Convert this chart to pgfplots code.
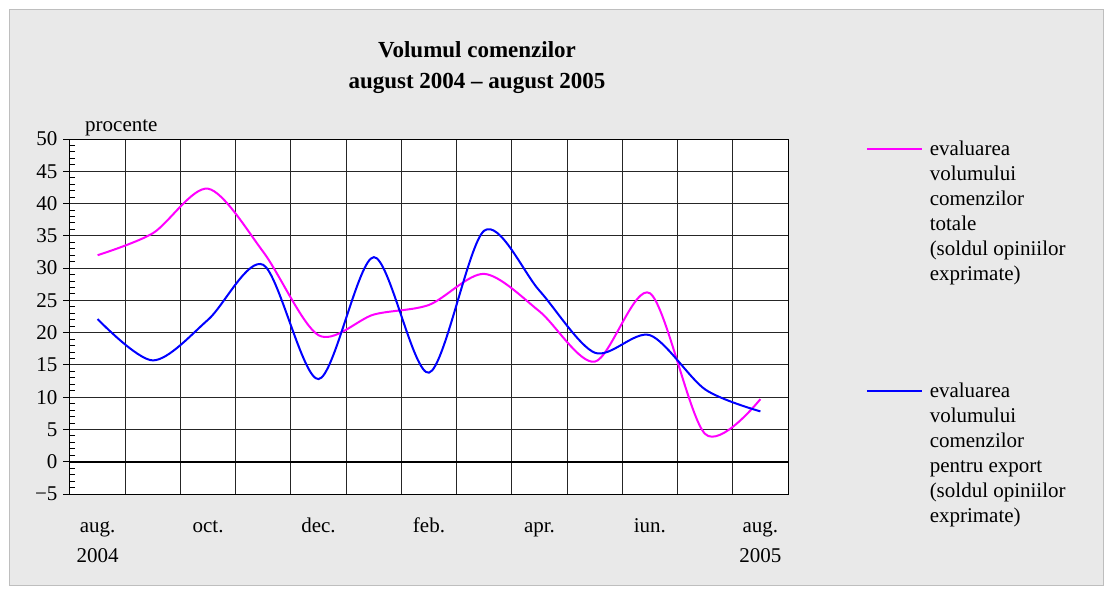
\documentclass[border=0pt]{standalone}
\usepackage{fontspec}
\setmainfont{Liberation Serif}
\usepackage{pgfplots}
\pgfplotsset{compat=1.18}
\definecolor{bgray}{RGB}{233,233,233}
\definecolor{frame}{RGB}{190,190,190}
\definecolor{mag}{RGB}{255,0,255}
\definecolor{blu}{RGB}{0,0,255}
\begin{document}
\begin{tikzpicture}[x=1pt,y=1pt]
% page and chart area (1 px = 1 pt, origin at the plot's lower left corner)
\fill[white] (-70,-96) rectangle (1043,494);
\filldraw[fill=bgray, draw=frame, line width=1pt] (-60,-91) rectangle (1033,484);
\node[anchor=base, align=center, font=\bfseries\fontsize{23}{31}\selectfont]
  at (407,405) {Volumul comenzilor\\august 2004 – august 2005};
\node[anchor=base west, inner sep=0pt, font=\fontsize{21}{25}\selectfont]
  at (15,362) {procente};
\begin{axis}[
    at={(0,0)}, anchor=south west,
    scale only axis, width=718pt, height=355pt,
    xmin=-0.5, xmax=12.5, ymin=-5, ymax=50,
    axis background/.style={fill=white},
    axis line style={black, line width=1pt},
    grid style={black!85, line width=1pt},
    xtick={0.5,1.5,...,11.5}, xticklabels={}, xmajorgrids,
    xtick style={draw=none},
    extra x ticks={0,2,4,6,8,10,12},
    extra x tick labels={\strut aug.\\2004,\strut oct.,\strut dec.,\strut feb.,\strut apr.,\strut iun.,\strut aug.\\2005},
    extra x tick style={grid=none, major tick length=0pt,
        tick label style={align=center, anchor=north, yshift=-14pt,
          font=\fontsize{21}{30}\selectfont}},
    ytick={-5,0,...,50},
    yticklabels={−5,0,5,10,15,20,25,30,35,40,45,50},
    yticklabel style={font=\fontsize{21}{25}\selectfont, xshift=-2pt},
    ytick pos=left,
    ymajorgrids,
    minor y tick num=4,
    tick align=outside,
    major tick length=7pt,
    minor tick length=5pt,
    minor y tick style={xshift=5pt, black, line width=0.9pt},
    major tick style={black, line width=0.9pt},
    legend style={draw=none, fill=none, inner sep=0pt,
        at={(axis description cs:1.108,1.0)}, anchor=north west,
        cells={anchor=base west, inner sep=0pt},
        column sep=5pt, row sep=222pt,
        font=\fontsize{21}{25}\selectfont},
    legend image code/.code={\draw[#1] (0pt,7pt) -- (55pt,7pt);},
]
\addplot[black, line width=2.2pt, forget plot] coordinates {(-0.5,0) (12.5,0)};
\addplot[mag, line width=2pt, smooth] coordinates {
    (0,32.0) (1,35.4) (2,42.3) (3,32.5) (4,19.6) (5,22.8) (6,24.3)
    (7,29.1) (8,23.3) (9,15.5) (10,26.1) (11,4.3) (12,9.7)};
\addlegendentry{\parbox[t]{170pt}{\raggedright evaluarea\\volumului\\comenzilor\\totale\\(soldul opiniilor\\exprimate)}}
\addplot[blu, line width=2pt, smooth] coordinates {
    (0,22.1) (1,15.7) (2,22.0) (3,30.5) (4,12.8) (5,31.7) (6,13.8)
    (7,35.8) (8,26.5) (9,16.9) (10,19.6) (11,11.2) (12,7.8)};
\addlegendentry{\parbox[t]{170pt}{\raggedright evaluarea\\volumului\\comenzilor\\pentru export\\(soldul opiniilor\\exprimate)}}
\end{axis}
\end{tikzpicture}
\end{document}
